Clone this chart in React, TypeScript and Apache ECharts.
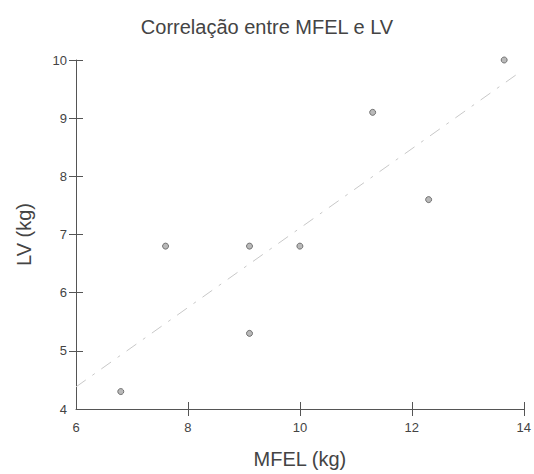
import React, { useEffect, useRef } from "react";
import * as echarts from "echarts";

const title = "Correlação entre MFEL e LV";
const xName = "MFEL (kg)";
const yName = "LV (kg)";
const mfel = [6.8, 7.6, 9.1, 9.1, 10.0, 11.3, 12.3, 13.65];
const lv = [4.3, 6.8, 6.8, 5.3, 6.8, 9.1, 7.6, 10.0];
const trendX = [6, 13.9];
const trendY = [4.38, 9.77];
const xTicks = [8, 10, 12, 14];
const yTicks = [5, 6, 7, 8, 9, 10];

const FONT = "Liberation Sans, Arial, sans-serif";
const AXIS = "#555";
const TEXT = "#444";

export default function App() {
  const ref = useRef<HTMLDivElement>(null);
  useEffect(() => {
    document.body.style.margin = "0";
    const chart = echarts.init(ref.current!, null, { renderer: "svg", width: 534, height: 474 });
    const baseX = {
      type: "value",
      min: 6,
      max: 14,
      interval: 2,
      position: "bottom",
      splitLine: { show: false },
    };
    const baseY = {
      type: "value",
      min: 4,
      max: 10,
      interval: 1,
      position: "left",
      splitLine: { show: false },
    };
    chart.setOption({
      animation: false,
      backgroundColor: "#fff",
      title: {
        text: title,
        left: "center",
        top: 12,
        textStyle: { fontFamily: FONT, fontSize: 20, fontWeight: "normal", color: TEXT },
      },
      grid: { left: 76, top: 60, width: 450, height: 352, containLabel: false },
      xAxis: [
        {
          ...baseX,
          name: xName,
          nameLocation: "middle",
          nameGap: 40,
          nameTextStyle: { fontFamily: FONT, fontSize: 20, color: TEXT },
          axisLine: { show: true, lineStyle: { color: AXIS, width: 1 } },
          axisTick: { show: true, length: 7, customValues: xTicks, lineStyle: { color: AXIS } },
          axisLabel: { margin: 12, fontFamily: FONT, fontSize: 13, color: TEXT },
        },
        {
          ...baseX,
          axisLine: { show: false },
          axisTick: { show: true, inside: true, length: 7, customValues: xTicks, lineStyle: { color: AXIS } },
          axisLabel: { show: false },
        },
      ],
      yAxis: [
        {
          ...baseY,
          name: yName,
          nameLocation: "middle",
          nameGap: 42,
          nameTextStyle: { fontFamily: FONT, fontSize: 20, color: TEXT },
          axisLine: { show: true, lineStyle: { color: AXIS, width: 1 } },
          axisTick: { show: true, length: 7, customValues: yTicks, lineStyle: { color: AXIS } },
          axisLabel: { margin: 9, fontFamily: FONT, fontSize: 13, color: TEXT },
        },
        {
          ...baseY,
          axisLine: { show: false },
          axisTick: { show: true, inside: true, length: 7, customValues: yTicks, lineStyle: { color: AXIS } },
          axisLabel: { show: false },
        },
      ],
      series: [
        {
          type: "line",
          xAxisIndex: 0,
          yAxisIndex: 0,
          data: trendX.map((x, i) => [x, trendY[i]]),
          showSymbol: false,
          symbol: "none",
          silent: true,
          lineStyle: { color: "#c8c8c8", width: 1, type: [12, 8, 3, 8] },
          z: 1,
        },
        {
          type: "scatter",
          xAxisIndex: 0,
          yAxisIndex: 0,
          data: mfel.map((x, i) => [x, lv[i]]),
          symbol: "circle",
          symbolSize: 6,
          itemStyle: { color: "#a8a8a8", borderColor: "#5a5a5a", borderWidth: 1 },
          z: 3,
        },
      ],
    });
    return () => chart.dispose();
  }, []);
  return <div ref={ref} style={{ width: 534, height: 474 }} />;
}
